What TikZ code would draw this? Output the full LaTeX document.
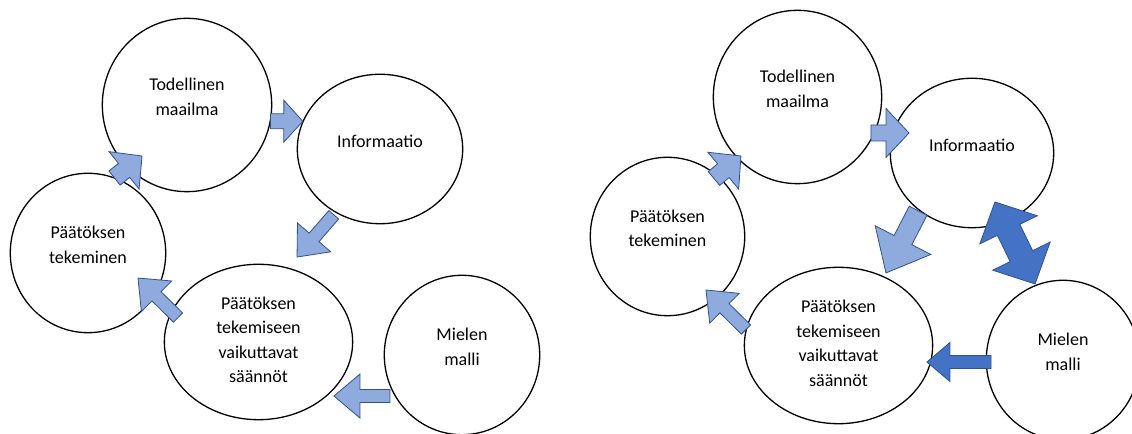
\documentclass[tikz,border=0pt]{standalone}
\usepackage{fontspec}
\setmainfont{Carlito}
\usepackage{tikz}
\usetikzlibrary{shapes.geometric,calc}

\definecolor{lightblue}{RGB}{143,170,220}
\definecolor{darkblue}{RGB}{68,114,196}
\definecolor{edgeblue}{RGB}{47,82,143}

\newcommand\blockarr[6]{%
  \coordinate (hb) at ($(#3)!#6bp!(#2)$);
  \filldraw[#1] ($(#2)!#4bp!90:(#3)$) -- ($(hb)!#4bp!90:(#3)$) -- ($(hb)!#5bp!90:(#3)$) -- (#3)
    -- ($(hb)!#5bp!-90:(#3)$) -- ($(hb)!#4bp!-90:(#3)$) -- ($(#2)!#4bp!-90:(#3)$) -- cycle;}
\newcommand\dblockarr[6]{%
  \coordinate (hb) at ($(#3)!#6bp!(#2)$);
  \coordinate (ha) at ($(#2)!#6bp!(#3)$);
  \filldraw[#1] ($(ha)!#4bp!90:(#3)$) -- ($(hb)!#4bp!90:(#3)$) -- ($(hb)!#5bp!90:(#3)$) -- (#3)
    -- ($(hb)!#5bp!-90:(#3)$) -- ($(hb)!#4bp!-90:(#3)$) -- ($(ha)!#4bp!-90:(#3)$)
    -- ($(ha)!#5bp!-90:(#3)$) -- (#2) -- ($(ha)!#5bp!90:(#3)$) -- cycle;}

\begin{document}
\begin{tikzpicture}[x=1bp,y=1bp]
		\tikzstyle{circ}=[draw,ellipse,fill=white,line width=1.3bp,inner sep=0pt,align=center,text depth=16bp,font=\fontsize{18bp}{24.5bp}\selectfont]
		\tikzstyle{light}=[fill=lightblue,draw=edgeblue,line width=0.8bp]
		\tikzstyle{dark}=[fill=darkblue,draw=edgeblue,line width=0.8bp]
		\useasboundingbox (0,0) rectangle (1132,434);
		\node[circ,minimum width=170,minimum height=174] (todL) at (187,329) {Todellinen\\maailma};
		\node[circ,minimum width=166,minimum height=150] (infoL) at (380,285) {Informaatio};
		\node[circ,minimum width=156,minimum height=160] (paatL) at (88,181) {Päätöksen\\tekeminen};
		\node[circ,minimum width=189,minimum height=156,text depth=4bp] (saanL) at (258.5,92) {Päätöksen\\tekemiseen\\vaikuttavat\\säännöt};
		\node[circ,minimum width=156,minimum height=160] (mielL) at (462,79) {Mielen\\malli};
		\node[circ,minimum width=169,minimum height=174] (todR) at (797.5,337) {Todellinen\\maailma};
		\node[circ,minimum width=164,minimum height=150] (infoR) at (972,281) {Informaatio};
		\node[circ,minimum width=155,minimum height=159] (paatR) at (667.5,197.5) {Päätöksen\\tekeminen};
		\node[circ,minimum width=189,minimum height=157,text depth=4bp] (saanR) at (838.5,88.5) {Päätöksen\\tekemiseen\\vaikuttavat\\säännöt};
		\node[circ,minimum width=154,minimum height=160] (mielR) at (1063,74) {Mielen\\malli};
		\coordinate (l1a) at ($(todL)+(-11:85)$);
		\coordinate (l1b) at ($(infoL)+(160.3:82)$);
		\coordinate (l2a) at ($(paatL)+(70.5:79.5)$);
		\coordinate (l2b) at ($(todL)+(228.6:68)$);
		\coordinate (l3a) at ($(infoL)+(234.9:80.4)$);
		\coordinate (l3b) at ($(saanL)+(65.6:93.3)$);
		\coordinate (l4a) at ($(saanL)+(163.1:84.1)$);
		\coordinate (l4b) at ($(paatL)+(-26.6:55.9)$);
		\coordinate (l5a) at ($(mielL)+(209.7:82.9)$);
		\coordinate (l5b) at ($(saanL)+(-35.6:92.8)$);
		\coordinate (r1a) at ($(todR)+(-26.1:81.8)$);
		\coordinate (r1b) at ($(infoR)+(162.4:66.1)$);
		\coordinate (r2a) at ($(paatR)+(51.3:74.3)$);
		\coordinate (r2b) at ($(todR)+(226.2:81.7)$);
		\coordinate (r3a) at ($(infoR)+(227:79)$);
		\coordinate (r3b) at ($(saanR)+(56.8:86.7)$);
		\coordinate (r4a) at ($(saanR)+(170.2:93.9)$);
		\coordinate (r4b) at ($(paatR)+(-54.3:65.9)$);
		\coordinate (r5a) at ($(mielR)+(181.6:72)$);
		\coordinate (r5b) at ($(saanR)+(-10.6:90)$);
		\coordinate (r6a) at ($(infoR)+(-64.9:54.1)$);
		\coordinate (r6b) at ($(mielR)+(110.2:81)$);
		\blockarr{light}{l1a}{l1b}{7.5}{21}{19}
		\blockarr{light}{l2a}{l2b}{9}{24}{23}
		\blockarr{light}{l3a}{l3b}{6.5}{22}{26}
		\blockarr{light}{l4a}{l4b}{6.5}{21.5}{26}
		\blockarr{light}{l5a}{l5b}{6.5}{22}{26}
		\blockarr{light}{r1a}{r1b}{8}{24.5}{23}
		\blockarr{light}{r2a}{r2b}{9}{24}{23}
		\blockarr{light}{r3a}{r3b}{10}{31.3}{37}
		\blockarr{light}{r4a}{r4b}{6.5}{21}{26}
		\blockarr{dark}{r5a}{r5b}{6.5}{19.5}{23}
		\dblockarr{dark}{r6a}{r6b}{12.5}{32}{31}
\end{tikzpicture}
\end{document}
